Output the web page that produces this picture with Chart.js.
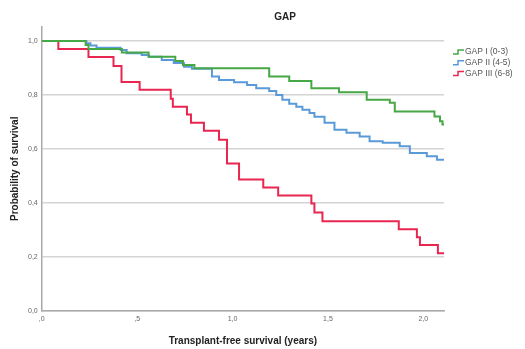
<!DOCTYPE html>
<html>
<head>
<meta charset="utf-8">
<script src="https://cdn.jsdelivr.net/npm/chart.js@4/dist/chart.umd.min.js"></script>
<style>
  html, body { margin: 0; padding: 0; background: #fff; }
  #wrap { width: 525px; height: 349px; }
</style>
</head>
<body>
<div id="wrap"><canvas id="km"></canvas></div>
<script>
// Kaplan-Meier steps: time (years) of each drop and survival after it
const gruppi = ["GAP I (0-3)", "GAP II (4-5)", "GAP III (6-8)"];
const colori = ["#45a845", "#5b9ad8", "#e8264f"];

const tempiI = [0, 0.23, 0.245, 0.42, 0.56, 0.70, 0.74, 0.80, 1.192, 1.297, 1.413, 1.558, 1.703, 1.824, 1.85, 2.058, 2.087, 2.10, 2.108];
const survI  = [1, 0.985, 0.97, 0.957, 0.942, 0.926, 0.911, 0.899, 0.868, 0.852, 0.825, 0.81, 0.782, 0.771, 0.739, 0.72, 0.702, 0.69, 0.69];

const tempiII = [0, 0.234, 0.255, 0.287, 0.413, 0.445, 0.524, 0.561, 0.629, 0.692, 0.745, 0.787, 0.892, 0.929, 1.008, 1.076, 1.124, 1.192, 1.229, 1.261, 1.297, 1.334, 1.366, 1.403, 1.429, 1.482, 1.534, 1.597, 1.666, 1.718, 1.787, 1.876, 1.929, 2.018, 2.071, 2.108];
const survII  = [1, 0.992, 0.983, 0.975, 0.967, 0.955, 0.948, 0.942, 0.93, 0.918, 0.905, 0.897, 0.868, 0.855, 0.847, 0.837, 0.825, 0.815, 0.80, 0.782, 0.767, 0.756, 0.745, 0.733, 0.719, 0.697, 0.671, 0.66, 0.646, 0.628, 0.623, 0.61, 0.585, 0.573, 0.56, 0.56];

const tempiIII = [0, 0.087, 0.245, 0.376, 0.418, 0.513, 0.676, 0.687, 0.761, 0.782, 0.85, 0.929, 0.971, 1.034, 1.161, 1.239, 1.413, 1.429, 1.471, 1.871, 1.966, 1.982, 2.076, 2.108];
const survIII  = [1, 0.97, 0.941, 0.907, 0.848, 0.819, 0.786, 0.756, 0.727, 0.697, 0.667, 0.634, 0.546, 0.486, 0.457, 0.427, 0.397, 0.364, 0.331, 0.302, 0.272, 0.243, 0.213, 0.213];

const xTicks = [0, 0.5, 1, 1.5, 2];
const xLabels = [",0", ",5", "1,0", "1,5", "2,0"];
const yTicks = [0, 0.2, 0.4, 0.6, 0.8, 1.0];
const yLabels = ["0,0", "0,2", "0,4", "0,6", "0,8", "1,0"];

const serie = [[tempiI, survI], [tempiII, survII], [tempiIII, survIII]];

const font = "'Liberation Sans', Arial, sans-serif";

// titolo e legenda disegnati a mano, come nel grafico SPSS
const decorazioni = {
  id: "decorazioni",
  afterDraw(chart) {
    const c = chart.ctx;
    c.save();
    c.fillStyle = "#222";
    c.font = "bold 10px " + font;
    c.textAlign = "center";
    c.textBaseline = "middle";
    c.fillText("GAP", 285, 17);

    c.font = "8.5px " + font;
    c.textAlign = "left";
    gruppi.forEach((g, i) => {
      const y = 52 + i * 10.8;
      c.strokeStyle = colori[i];
      c.lineWidth = 1.5;
      c.beginPath();
      c.moveTo(453, y + 2);
      c.lineTo(458, y + 2);
      c.lineTo(458, y - 2);
      c.lineTo(464, y - 2);
      c.stroke();
      c.fillStyle = "#555";
      c.fillText(g, 465, y);
    });
    c.restore();
  }
};

new Chart(document.getElementById("km"), {
  type: "line",
  data: {
    datasets: serie.map(([t, s], i) => ({
      label: gruppi[i],
      data: t.map((x, k) => ({ x: x, y: s[k] })),
      borderColor: colori[i],
      borderWidth: 2,
      stepped: "before",
      pointRadius: 0,
      fill: false
    }))
  },
  options: {
    responsive: true,
    maintainAspectRatio: false,
    animation: false,
    layout: { padding: { top: 27, right: 81, left: 9, bottom: 2 } },
    plugins: {
      legend: { display: false },
      title: { display: false },
      tooltip: { enabled: false }
    },
    scales: {
      x: {
        type: "linear",
        min: 0,
        max: 2.108,
        afterBuildTicks: (s) => { s.ticks = xTicks.map((v) => ({ value: v })); },
        ticks: {
          autoSkip: false,
          maxRotation: 0,
          padding: 4,
          color: "#666",
          font: { family: font, size: 7 },
          callback: (v) => xLabels[xTicks.indexOf(v)]
        },
        grid: { display: false, drawTicks: false },
        border: { color: "#aaa", width: 1.5 },
        title: {
          display: true,
          text: "Transplant-free survival (years)",
          color: "#222",
          font: { family: font, size: 10, weight: "bold" },
          padding: { top: 8, bottom: 0 }
        }
      },
      y: {
        min: 0,
        max: 1.052,
        afterBuildTicks: (s) => { s.ticks = yTicks.map((v) => ({ value: v })); },
        ticks: {
          padding: 4,
          color: "#666",
          font: { family: font, size: 7 },
          callback: (v) => yLabels[yTicks.indexOf(v)]
        },
        grid: { color: "#d4d4d4", lineWidth: 1.5, drawTicks: false },
        border: { color: "#aaa", width: 1.5 },
        title: {
          display: true,
          text: "Probability of survival",
          color: "#222",
          font: { family: font, size: 10, weight: "bold" },
          padding: { top: 0, bottom: 3 }
        }
      }
    }
  },
  plugins: [decorazioni]
});
</script>
</body>
</html>
